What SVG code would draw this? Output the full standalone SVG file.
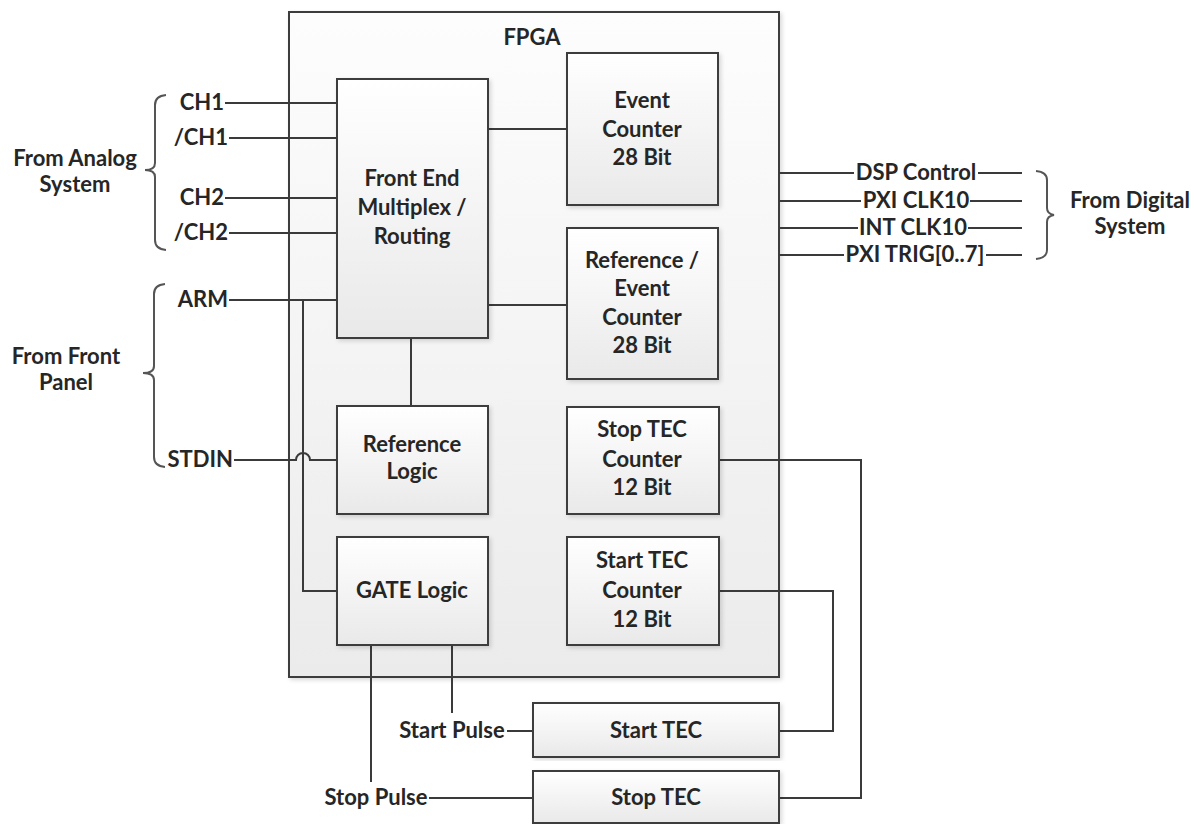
<svg xmlns="http://www.w3.org/2000/svg" width="1195" height="824" viewBox="0 0 1195 824">
<style>
text{font-family:"Lato","Liberation Sans",sans-serif;font-weight:bold;font-size:22px;fill:#262626}
.c{text-anchor:middle}
.e{text-anchor:end}
.box{fill:url(#g);stroke:#3c3c3c;stroke-width:2;filter:url(#sh)}
.fpga{fill:url(#gf);stroke:#3c3c3c;stroke-width:2;filter:url(#sh)}
.ln{fill:none;stroke:#3a3a3a;stroke-width:2}
.br{fill:none;stroke:#555;stroke-width:2}
</style>
<defs>
<linearGradient id="g" x1="0" y1="0" x2="0" y2="1"><stop offset="0" stop-color="#ffffff"/><stop offset="1" stop-color="#e9e9e9"/></linearGradient>
<linearGradient id="gf" x1="0" y1="0" x2="0" y2="1"><stop offset="0" stop-color="#fdfdfd"/><stop offset="1" stop-color="#ebebeb"/></linearGradient>
<filter id="sh" x="-5%" y="-5%" width="112%" height="112%"><feDropShadow dx="2" dy="2" stdDeviation="2" flood-color="#000" flood-opacity="0.15"/></filter>
</defs>
<rect width="1195" height="824" fill="#fff"/>
<g id="fpga"><rect class="fpga" x="289" y="12" width="490" height="665"/><text class="c" x="532" y="45">FPGA</text></g>
<g id="connectors">
<path class="ln" d="M225 103H337M229 138H337M225 198H337M229 233H337M229 300H337M303 300V591H337M234 460H296a7 7 0 0 1 14 0H337"/>
<path class="ln" d="M488 129H567M488 305H567M411 338V406"/>
<path class="ln" d="M779 173H854M978 173H1022M779 201H861M970 201H1022M779 228H858M968 228H1022M779 255H844M986 255H1022"/>
<path class="ln" d="M719 460H861V798H779M719 591H833V731H779"/>
<path class="ln" d="M452 645V713M507 731H533M371 645V782M429 798H533"/>
</g>
<g id="frontend"><rect class="box" x="337" y="79" width="151" height="259"/><text class="c" x="412" y="186">Front End</text><text class="c" x="412" y="215">Multiplex /</text><text class="c" x="412" y="244">Routing</text></g>
<g id="eventcounter"><rect class="box" x="567" y="53" width="151" height="152"/><text class="c" x="642" y="108">Event</text><text class="c" x="642" y="137">Counter</text><text class="c" x="642" y="165">28 Bit</text></g>
<g id="refeventcounter"><rect class="box" x="567" y="228" width="151" height="151"/><text class="c" x="642" y="268">Reference /</text><text class="c" x="642" y="296">Event</text><text class="c" x="642" y="325">Counter</text><text class="c" x="642" y="353">28 Bit</text></g>
<g id="reflogic"><rect class="box" x="337" y="406" width="151" height="108"/><text class="c" x="412" y="452">Reference</text><text class="c" x="412" y="479">Logic</text></g>
<g id="gatelogic"><rect class="box" x="337" y="537" width="151" height="108"/><text class="c" x="412" y="598">GATE Logic</text></g>
<g id="stoptecctr"><rect class="box" x="567" y="407" width="152" height="107"/><text class="c" x="642" y="437">Stop TEC</text><text class="c" x="642" y="467">Counter</text><text class="c" x="642" y="495">12 Bit</text></g>
<g id="starttecctr"><rect class="box" x="567" y="537" width="152" height="108"/><text class="c" x="642" y="568">Start TEC</text><text class="c" x="642" y="598">Counter</text><text class="c" x="642" y="627">12 Bit</text></g>
<g id="starttec"><rect class="box" x="533" y="703" width="246" height="54"/><text class="c" x="656" y="738">Start TEC</text></g>
<g id="stoptec"><rect class="box" x="533" y="771" width="246" height="52"/><text class="c" x="656" y="805">Stop TEC</text></g>
<g id="labels">
<text class="e" x="224" y="110">CH1</text>
<text class="e" x="228" y="145">/CH1</text>
<text class="e" x="224" y="205">CH2</text>
<text class="e" x="228" y="240">/CH2</text>
<text class="e" x="228" y="307">ARM</text>
<text class="e" x="233" y="467">STDIN</text>
<text class="c" x="75" y="166">From Analog</text>
<text class="c" x="75" y="192">System</text>
<text class="c" x="66" y="364">From Front</text>
<text class="c" x="66" y="390">Panel</text>
<text class="c" x="916" y="180">DSP Control</text>
<text class="c" x="916" y="208">PXI CLK10</text>
<text class="c" x="913" y="235">INT CLK10</text>
<text class="c" x="915" y="262">PXI TRIG[0..7]</text>
<text class="c" x="1130" y="208">From Digital</text>
<text class="c" x="1130" y="234">System</text>
<text class="c" x="452" y="738">Start Pulse</text>
<text class="c" x="376" y="805">Stop Pulse</text>
</g>
<g id="brackets">
<path class="br" d="M166 95Q155 96 155 105V163Q155 170 145 170Q155 170 155 177V240Q155 249 166 250"/>
<path class="br" d="M165 284Q154 285 154 294V366Q154 373 143 373Q154 373 154 380V457Q154 466 165 467"/>
<path class="br" d="M1036 171Q1047 172 1047 180V208Q1047 214 1054 215Q1047 216 1047 222V250Q1047 258 1036 259"/>
</g>
</svg>
